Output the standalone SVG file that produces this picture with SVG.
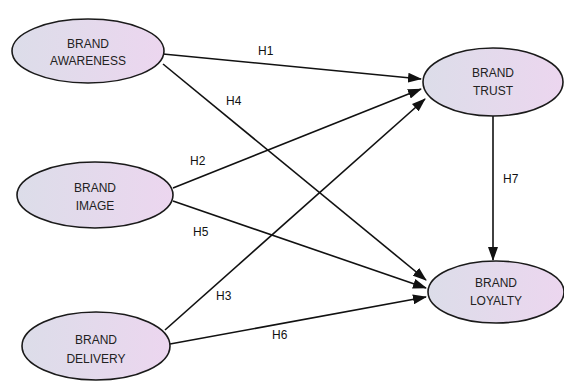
<svg xmlns="http://www.w3.org/2000/svg" width="564" height="381" viewBox="0 0 564 381">
<style>
.node ellipse{fill:url(#g);stroke:#1a1a1a;stroke-width:1.6}
.node text{font-family:"Liberation Sans",Arial,sans-serif;font-size:12px;fill:#222;text-anchor:middle}
.edge line{stroke:#111;stroke-width:1.6;marker-end:url(#arr)}
.lbl{font-family:"Liberation Sans",Arial,sans-serif;font-size:12px;fill:#111}
</style>
<defs>
<linearGradient id="g" x1="0" y1="0" x2="1" y2="0">
<stop offset="0" stop-color="#dcdde9"/>
<stop offset="1" stop-color="#ecd6ef"/>
</linearGradient>
<marker id="arr" markerUnits="userSpaceOnUse" markerWidth="14" markerHeight="10" refX="13" refY="5" orient="auto">
<path d="M0,0 L14,5 L0,10 Z" fill="#111"/>
</marker>
</defs>
<rect width="564" height="381" fill="#fff"/>
<g id="connectors" class="edge">
<line x1="163" y1="54" x2="421" y2="79"/>
<line x1="163" y1="64" x2="426" y2="280"/>
<line x1="173" y1="188" x2="421" y2="89"/>
<line x1="173" y1="201" x2="426" y2="288"/>
<line x1="165" y1="330" x2="425" y2="99"/>
<line x1="170" y1="344" x2="426" y2="297"/>
<line x1="493" y1="116" x2="493" y2="260"/>
</g>
<g id="labels">
<text class="lbl" x="258" y="55">H1</text>
<text class="lbl" x="226" y="105">H4</text>
<text class="lbl" x="190" y="165">H2</text>
<text class="lbl" x="193" y="236">H5</text>
<text class="lbl" x="216" y="300">H3</text>
<text class="lbl" x="272" y="339">H6</text>
<text class="lbl" x="503" y="183">H7</text>
</g>
<g id="brand-awareness" class="node">
<ellipse cx="88" cy="51" rx="76" ry="32"/>
<text x="88" y="48">BRAND</text>
<text x="88" y="65">AWARENESS</text>
</g>
<g id="brand-image" class="node">
<ellipse cx="95" cy="195" rx="78" ry="33"/>
<text x="95" y="192">BRAND</text>
<text x="95" y="210">IMAGE</text>
</g>
<g id="brand-delivery" class="node">
<ellipse cx="96" cy="346" rx="74" ry="34"/>
<text x="96" y="344">BRAND</text>
<text x="96" y="363">DELIVERY</text>
</g>
<g id="brand-trust" class="node">
<ellipse cx="493" cy="82" rx="70" ry="34"/>
<text x="493" y="77">BRAND</text>
<text x="493" y="95">TRUST</text>
</g>
<g id="brand-loyalty" class="node">
<ellipse cx="496" cy="292" rx="68" ry="31"/>
<text x="496" y="287">BRAND</text>
<text x="496" y="305">LOYALTY</text>
</g>
</svg>
